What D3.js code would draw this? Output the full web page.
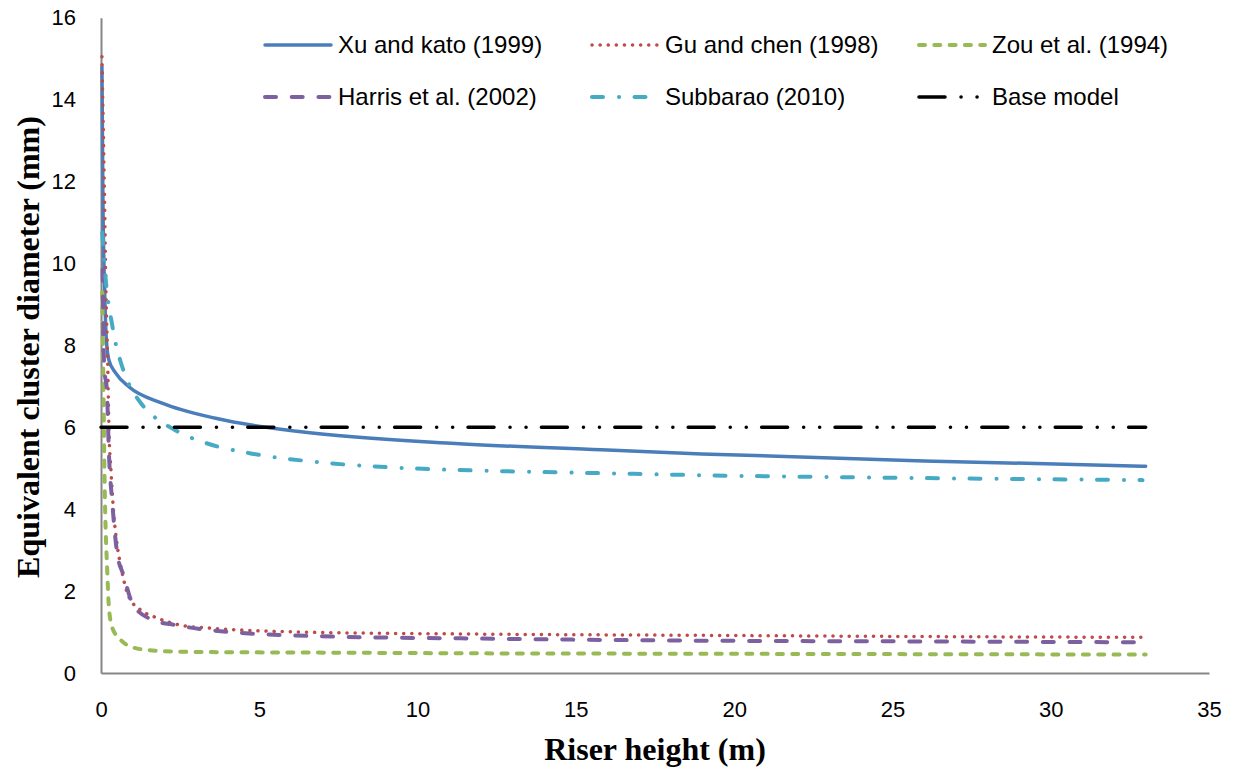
<!DOCTYPE html>
<html>
<head>
<meta charset="utf-8">
<script src="https://cdn.jsdelivr.net/npm/d3@7"></script>
<style>
  body { margin: 0; background: #fff; }
  .tick text { font-family: "Liberation Sans", Arial, sans-serif; font-size: 22px; fill: #000; }
  .legend text { font-family: "Liberation Sans", Arial, sans-serif; font-size: 24px; fill: #000; }
  .axis-title { font-family: "Liberation Serif", "Times New Roman", serif; font-weight: bold; font-size: 32px; fill: #000; }
</style>
</head>
<body>
<div id="chart"></div>
<script>
// values (riser height in m, diameter in mm)
var xuX = [0.03, 0.06, 0.12, 0.17, 0.25, 0.46, 0.88, 1.93, 3.62, 6.32, 11.07, 15.8, 18.97, 26, 33];
var xuY = [14.8, 11.63, 9.19, 8.13, 7.64, 7.33, 6.99, 6.59, 6.22, 5.89, 5.61, 5.45, 5.35, 5.18, 5.05];

var guX = [0.03, 0.11, 0.16, 0.21, 0.25, 0.32, 0.40, 0.49, 0.67, 0.88, 1.25, 1.72, 2.57, 3.4, 6.3, 12, 18.9, 26, 33];
var guY = [15.05, 11.63, 9.19, 7.64, 6.01, 4.88, 3.91, 3.25, 2.44, 1.86, 1.54, 1.36, 1.16, 1.1, 1.0, 0.95, 0.92, 0.89, 0.87];

var zouX = [0.04, 0.06, 0.11, 0.2, 0.25, 0.35, 0.62, 0.99, 1.5, 2.45, 3.5, 6.3, 12, 19, 26, 33];
var zouY = [9.3, 8.13, 4.88, 2.44, 1.61, 1.12, 0.81, 0.63, 0.56, 0.52, 0.51, 0.5, 0.48, 0.47, 0.46, 0.45];

var harrisX = [0.05, 0.1, 0.19, 0.25, 0.35, 0.51, 0.71, 1.03, 1.66, 2.36, 3.4, 6.8, 12, 18.9, 26, 33];
var harrisY = [9.85, 7.5, 6.84, 5.37, 4.22, 2.93, 2.39, 1.64, 1.29, 1.17, 1.05, 0.9, 0.84, 0.79, 0.77, 0.75];

var subbaraoX = [0.04, 0.15, 0.23, 0.33, 0.46, 0.62, 0.87, 1.25, 1.69, 2.23, 2.86, 3.46, 4.82, 6.84, 9.47, 12.63, 15.79, 18.95, 26, 32.9];
var subbaraoY = [10.75, 9.6, 9.06, 8.6, 8.06, 7.6, 7.08, 6.6, 6.25, 5.98, 5.74, 5.58, 5.35, 5.15, 5.01, 4.93, 4.88, 4.83, 4.76, 4.71];

var baseX = [0, 33];
var baseY = [6, 6];

var seriesNames = ["Xu and kato (1999)", "Gu and chen (1998)", "Zou et al. (1994)",
                   "Harris et al. (2002)", "Subbarao (2010)", "Base model"];
var xTicks = [0, 5, 10, 15, 20, 25, 30, 35];
var yTicks = [0, 2, 4, 6, 8, 10, 12, 14, 16];

var svgWidth = 1235;
var svgHeight = 767;

var svg = d3.select("#chart")
  .append("svg")
  .attr("width", svgWidth)
  .attr("height", svgHeight);

var x = d3.scaleLinear().domain([0, 35]).range([101, 1209]);
var y = d3.scaleLinear().domain([0, 16]).range([673, 17.8]);

// axes, grey lines without tick marks
var xAxis = svg.append("g")
  .attr("transform", "translate(0,673)")
  .call(d3.axisBottom(x).tickValues(xTicks).tickSize(0).tickSizeOuter(0).tickPadding(28));

var yAxis = svg.append("g")
  .attr("transform", "translate(101,0)")
  .call(d3.axisLeft(y).tickValues(yTicks).tickSize(0).tickSizeOuter(0).tickPadding(25));

svg.selectAll(".domain").attr("stroke", "#868686").attr("stroke-width", 2);

// line styles per series
var styles = [
  { color: "#4A7EBB", dash: null, width: 3.5, cap: "round" },
  { color: "#BE4B48", dash: "0.1 8", width: 3.5, cap: "round" },
  { color: "#98B954", dash: "6 9.3", width: 4, cap: "round" },
  { color: "#7D60A0", dash: "11 15.7", width: 4, cap: "round" },
  { color: "#46AAC5", dash: "11 16 0.1 15.4", width: 4, cap: "round" },
  { color: "#000000", dash: "26 16 0.1 15.9 0.1 15.3", width: 3.5, cap: "round" }
];

var allSeries = [
  d3.zip(xuX, xuY),
  d3.zip(guX, guY),
  d3.zip(zouX, zouY),
  d3.zip(harrisX, harrisY),
  d3.zip(subbaraoX, subbaraoY),
  d3.zip(baseX, baseY)
];

var line = d3.line()
  .x(d => x(d[0]))
  .y(d => y(d[1]))
  .curve(d3.curveMonotoneX);

svg.append("g")
  .selectAll("path")
  .data(allSeries)
  .enter()
  .append("path")
  .attr("d", line)
  .attr("fill", "none")
  .attr("stroke", (d, i) => styles[i].color)
  .attr("stroke-width", (d, i) => styles[i].width)
  .attr("stroke-dasharray", (d, i) => styles[i].dash)
  .attr("stroke-linecap", (d, i) => styles[i].cap)
  .attr("stroke-linejoin", "round");

// legend, two rows of three
var legendCols = [263, 590, 917];
var legendRows = [45, 97];

var legend = svg.append("g").attr("class", "legend");

seriesNames.forEach(function(name, i) {
  var lx = legendCols[i % 3];
  var ly = legendRows[Math.floor(i / 3)];
  var s = styles[i];
  legend.append("line")
    .attr("x1", lx + 2)
    .attr("x2", lx + 68)
    .attr("y1", ly)
    .attr("y2", ly)
    .attr("stroke", s.color)
    .attr("stroke-width", s.width)
    .attr("stroke-dasharray", s.dash)
    .attr("stroke-linecap", s.cap);
  legend.append("text")
    .attr("x", lx + 75)
    .attr("y", ly)
    .attr("dy", "0.35em")
    .text(name);
});

// axis titles
svg.append("text")
  .attr("class", "axis-title")
  .attr("x", 655)
  .attr("y", 760)
  .attr("text-anchor", "middle")
  .text("Riser height (m)");

svg.append("text")
  .attr("class", "axis-title")
  .attr("transform", "translate(39,347) rotate(-90)")
  .attr("text-anchor", "middle")
  .text("Equivalent cluster diameter (mm)");
</script>
</body>
</html>
